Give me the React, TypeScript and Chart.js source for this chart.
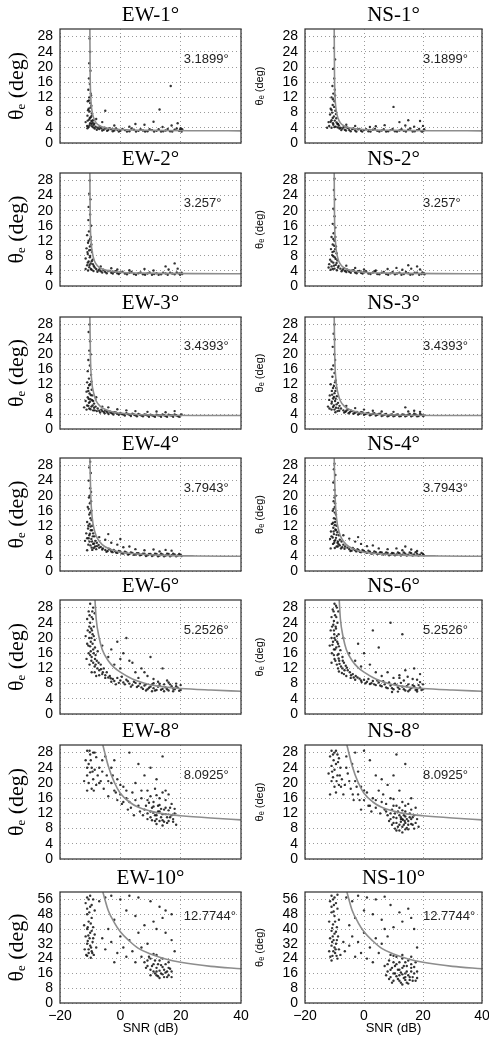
import React, { useEffect, useRef } from 'react';
import { Chart, registerables } from 'chart.js';
Chart.register(...registerables);

// ---------- fitted curves ----------
const CURVE_1 = [[-10.1,30],[-10,18],[-9.8,12],[-9.4,8.5],[-8.8,6.5],[-8,5.3],[-7,4.6],[-5,4],[-2,3.7],[2,3.5],[8,3.35],[15,3.27],[25,3.23],[40,3.2]];
const CURVE_2 = [[-10.1,30],[-10,19],[-9.7,12],[-9.2,8.5],[-8.5,6.5],[-7.5,5.3],[-6,4.5],[-3,3.9],[1,3.6],[8,3.42],[15,3.34],[25,3.29],[40,3.26]];
const CURVE_3 = [[-10.1,30],[-9.9,19],[-9.5,13],[-8.8,9.5],[-8,7.5],[-6.5,6],[-4.5,5.1],[-2,4.5],[2,4.1],[8,3.8],[15,3.68],[25,3.62],[40,3.6]];
const CURVE_4 = [[-10.1,30],[-9.8,20],[-9.3,14],[-8.5,10.5],[-7.5,8.5],[-6,7],[-4,6],[-1,5.2],[3,4.7],[8,4.4],[15,4.15],[25,4.0],[40,3.9]];
const CURVE_6 = [[-8.4,30],[-8,25],[-7,20],[-6,17],[-4,14],[-2,12.2],[0,11],[4,9.2],[8,8.1],[12,7.4],[16,7],[20,6.7],[30,6.3],[40,6.0]];
const CURVE_8 = [[-5.8,30],[-4,24.5],[-2,20.2],[0,17.3],[3,15],[6,13.6],[10,12.6],[15,11.8],[20,11.4],[30,10.8],[40,10.3]];
const CURVE_10 = [[-5.8,60],[-4,50],[-2,43.5],[0,38.5],[3,33.5],[6,29.5],[10,26.5],[15,23.8],[20,22],[30,19.8],[40,18.5]];

// ---------- scatter points ----------
const EW1_PTS = [[-10.2,27.5],[-10.0,24],[-10.3,21],[-9.9,19],[-10.4,17],[-10.1,15.5],[-10.6,14],[-9.8,13],[-10.3,12],[-10.8,11],[-10.0,10.5],[-9.6,9.8],[-10.5,9],[-10.2,8.3],[-9.4,7.8],[-10.9,7.2],[-9.8,6.8],[-10.3,6.2],[-9.1,6],[-11.5,5.5],[-10.0,5.2],[-9.5,5],[-11,4.5],[-8.8,4.8],[-10.5,4.2],
[-8.2,4.3],[-7.5,4],[-7,3.7],[-6.3,3.9],[-5.5,3.5],[-4.8,3.8],[-4,3.4],[-3,3.6],[-2,3.3],[-1,3.5],[0,3.2],[1.5,3.4],[3,3.1],[4.5,3.5],[6,3.2],[7.5,3.3],[9,3.1],[10.5,3.4],[12,3.2],[13.5,3.0],[15,3.3],[16.5,3.1],[18,3.5],[19.5,3.2],[20.3,3.0],
[-6,5.5],[-2,4.6],[3,4.3],[8,4.8],[11,5.6],[14,4.2],[16.7,15],[13,8.8],[17,4.6],[19,5.2],[20,3.9],[5,5],[-5,8.5],[-8,6.3],
[-9.7,12.5],[-10.4,11.2],[-9.9,9.3],[-10.7,8.6],[-9.5,7.2],[-10.1,6.6],[-9.6,5.8],[-10.8,5.9],[-9.2,5.4],[-8.6,5.1],[-10.2,4.7],[-9.4,4.4],[-8.9,4.1],[-10.9,3.9],[-8.5,3.8],
[-7.8,3.5],[-6.8,4.3],[-6,3.3],[-5.2,4],[-4.4,3.2],[-3.5,3.9],[-2.5,3.1],[-1.5,3.8],[-0.5,3.0],[0.7,3.7],[2.2,3.0],[3.7,3.8],[5.2,3.0],[6.7,3.6],[8.2,3.0],[9.7,3.6],[11.2,3.0],[12.7,3.6],[14.2,3.1],[15.7,3.7],[17.2,3.0],[18.7,3.8],[19.8,3.5],[20.5,3.6]];
const NS1_PTS = [[-10,28],[-10.2,25],[-9.8,22],[-10.5,19.5],[-10.1,17],[-10.7,15],[-9.9,14],[-10.4,13],[-11,12],[-10,11],[-10.6,10],[-11.3,9],[-9.7,8.5],[-10.8,8],[-11.5,7.5],[-10.2,7],[-9.4,6.5],[-11,6],[-12,5.5],[-10.5,5.2],[-9,5],[-11.8,4.5],[-10,4.2],[-8.5,4.6],[-12.5,4],
[-8,4],[-7.3,3.8],[-6.5,3.5],[-5.8,4.1],[-5,3.4],[-4,3.7],[-3,3.3],[-2,3.6],[-1,3.2],[0,3.4],[1.5,3.1],[3,3.5],[4.5,3.2],[6,3.3],[7.5,3.0],[9,3.4],[10.5,3.1],[12,3.3],[13.5,3.2],[15,3.5],[16.5,3.0],[18,3.4],[19.5,3.1],[20.2,3.3],
[-6,4.8],[-3,4.5],[2,4.2],[7,4.7],[12,5.5],[14,4.6],[15,6],[17,4.3],[19,5.8],[20,4.5],[10,9.5],[4,4.4],
[-9.8,12.5],[-10.5,11.5],[-10.1,9.5],[-11,8.7],[-9.5,7.6],[-10.6,6.6],[-9.9,5.9],[-11.3,5.6],[-9.3,5.4],[-8.8,5],[-10.4,4.8],[-9.6,4.3],[-8.9,4.1],[-11,4.0],[-8.3,3.8],
[-7.7,3.4],[-6.9,4.2],[-6.1,3.3],[-5.3,3.9],[-4.5,3.1],[-3.6,3.8],[-2.6,3.0],[-1.6,3.7],[-0.6,3.0],[0.7,3.6],[2.2,3.0],[3.7,3.7],[5.2,3.0],[6.7,3.6],[8.2,3.1],[9.7,3.7],[11.2,3.0],[12.7,3.6],[14.2,3.0],[15.7,3.8],[17.2,3.1],[18.7,3.7],[19.8,3.0],[20.4,3.6]];
const EW2_PTS = [[-10.1,28],[-10.3,24.5],[-9.9,23],[-10.5,21],[-10,19],[-10.6,17.5],[-9.7,16],[-10.4,14.5],[-11,13.5],[-10,12.5],[-10.7,11.5],[-9.6,11],[-11.2,10],[-10.3,9.5],[-9.4,9],[-10.8,8.5],[-10,8],[-11.5,7.3],[-9.2,7],[-10.5,6.5],[-9.8,6],[-11,5.5],[-8.8,5.3],[-10.3,5],[-11.5,4.5],[-9.5,4.3],
[-8,4.5],[-7.2,4.2],[-6.5,3.9],[-5.7,4.3],[-5,3.7],[-4,4],[-3,3.5],[-2,3.8],[-1,3.4],[0,3.6],[1.5,3.3],[3,3.5],[4.5,3.2],[6,3.4],[7.5,3.1],[9,3.3],[10.5,3.0],[12,3.4],[13.5,3.1],[15,3.3],[16.5,3.5],[18,3.1],[19.5,3.3],[20.3,3.5],
[-6.5,5.2],[-3,4.7],[-1,4.4],[3,4.2],[8,4.5],[11,4.1],[15,5.2],[16,4.4],[18,6],[19,4.6],
[-9.8,13],[-10.5,12],[-10.1,10.5],[-9.7,9.6],[-10.9,9],[-10.1,7.6],[-9.5,6.6],[-10.8,6.2],[-9.1,5.8],[-10.2,5.6],[-8.5,4.9],[-9.8,4.5],[-10.7,4.1],[-8.9,4.0],
[-7.6,3.8],[-6.8,4.6],[-6,3.6],[-5.3,4.1],[-4.5,3.4],[-3.5,4],[-2.5,3.3],[-1.5,3.9],[-0.5,3.2],[0.7,3.8],[2.2,3.1],[3.7,3.7],[5.2,3.0],[6.7,3.6],[8.2,3.0],[9.7,3.6],[11.2,3.2],[12.7,3.0],[14.2,3.5],[15.7,3.0],[17.2,3.3],[18.7,3.6],[19.8,3.0],[20.5,3.2]];
const NS2_PTS = [[-10,28.5],[-10.2,25.5],[-9.8,23],[-10.4,20.5],[-10,18.5],[-10.6,16.5],[-9.7,15.5],[-10.3,14],[-11,13],[-10,12],[-10.6,11],[-9.5,10.5],[-11.2,9.8],[-10.2,9.2],[-9.3,8.7],[-10.8,8.2],[-9.9,7.6],[-11.5,7],[-9,6.8],[-10.4,6.2],[-11.8,5.8],[-9.6,5.6],[-11,5.2],[-8.6,5.3],[-12,4.9],[-10,4.6],
[-8,4.6],[-7.2,4.3],[-6.5,4],[-5.8,4.4],[-5,3.8],[-4,4.1],[-3,3.6],[-2,3.9],[-1,3.5],[0,3.7],[1.5,3.3],[3,3.6],[4.5,3.2],[6,3.5],[7.5,3.2],[9,3.4],[10.5,3.1],[12,3.5],[13.5,3.2],[15,3.4],[16.5,3.1],[18,3.5],[19.5,3.2],[20.3,3.4],
[-6,5.4],[-3,4.8],[0,4.4],[4,4.1],[8,4.5],[11,4.8],[13,4.3],[15,5.5],[16,4.6],[18,5.2],[19,4.4],
[-9.7,13],[-10.4,12.5],[-10.1,10.7],[-9.8,9.8],[-10.7,9],[-10.4,7.9],[-9.6,7.2],[-11,6.5],[-9.3,6.1],[-10.2,5.4],[-8.8,4.9],[-10.6,4.5],[-11.3,4.3],[-9.2,4.2],
[-7.6,3.9],[-6.8,4.7],[-6,3.7],[-5.3,4.2],[-4.5,3.5],[-3.5,4.2],[-2.5,3.4],[-1.5,4],[-0.5,3.3],[0.7,3.9],[2.2,3.2],[3.7,3.9],[5.2,3.1],[6.7,3.7],[8.2,3.0],[9.7,3.7],[11.2,3.3],[12.7,3.0],[14.2,3.7],[15.7,3.0],[17.2,3.5],[18.7,3.0],[19.8,3.6],[20.5,3.1]];
const EW3_PTS = [[-10.2,28],[-10.5,26],[-10,23.5],[-10.3,21],[-9.8,20],[-10.6,18.5],[-10.1,17],[-10.8,15.5],[-9.7,14.5],[-10.4,13.5],[-11,12.5],[-10,12],[-10.7,11],[-9.5,10.5],[-11.2,10],[-10.2,9.5],[-9.3,9],[-10.8,8.5],[-9.9,8],[-11.5,7.5],[-9,7.5],[-10.4,7],[-8.7,6.8],[-11,6.3],[-9.6,6],[-12,5.8],[-8.2,6],[-10.3,5.5],[-7.5,5.5],[-9,5],
[-7,4.9],[-6.3,5.2],[-5.5,4.6],[-5,5],[-4.3,4.4],[-3.5,4.7],[-2.8,4.2],[-2,4.5],[-1,4.1],[0,4.3],[1,3.9],[2,4.2],[3,3.8],[4,4.1],[5,3.7],[6,4],[7,3.6],[8,3.9],[9,3.6],[10,3.8],[11,3.5],[12,3.8],[13,3.6],[14,3.9],[15,3.5],[16,3.8],[17,3.6],[18,3.9],[19,3.5],[20,3.7],
[-6,6],[-4,5.8],[-1,5.3],[2,5],[5,4.8],[9,4.6],[12,4.7],[15,4.5],[18,4.8],[-8,8.5],
[-9.6,12.7],[-10.3,11.7],[-10.6,10.2],[-9.8,9.1],[-10.5,8.1],[-9.4,7.7],[-10.1,7.3],[-9.2,6.3],[-10.6,6.2],[-8.7,5.7],[-9.9,5.3],[-8.5,5.0],[-11.2,5.2],[-7.8,4.8],
[-6.7,4.4],[-6,4.8],[-5.2,4.2],[-4.6,4.8],[-3.9,4.0],[-3.1,4.4],[-2.3,3.9],[-1.5,4.4],[-0.5,3.8],[0.5,4.0],[1.5,3.6],[2.5,4.0],[3.5,3.5],[4.5,3.9],[5.5,3.4],[6.5,3.8],[7.5,3.4],[8.5,3.8],[9.5,3.3],[10.5,3.7],[11.5,3.3],[12.5,3.7],[13.5,3.3],[14.5,3.7],[15.5,3.3],[16.5,3.7],[17.5,3.3],[18.5,3.7],[19.5,3.3],[20.3,3.9]];
const NS3_PTS = [[-10,28],[-10.3,25.5],[-9.9,24],[-10.6,22],[-10.1,20],[-9.8,18.5],[-10.4,17],[-11,16],[-10,15],[-10.7,14],[-9.6,13],[-11.3,12],[-10.2,11.5],[-9.4,11],[-10.9,10.2],[-10,9.6],[-11.6,9],[-9.2,8.8],[-10.5,8.2],[-11.8,7.8],[-9.8,7.5],[-8.8,7],[-11,6.8],[-10.2,6.3],[-12.2,6],[-8.3,6.2],[-9.5,5.7],[-11,5.2],[-7.8,5.5],[-9,4.8],
[-7,5],[-6.3,4.6],[-5.5,5.2],[-4.8,4.5],[-4,4.8],[-3.2,4.3],[-2.4,4.6],[-1.5,4.1],[-0.5,4.4],[0.5,4],[1.5,4.3],[2.5,3.9],[3.5,4.2],[4.5,3.8],[5.5,4.1],[6.5,3.7],[7.5,4],[8.5,3.6],[9.5,3.9],[10.5,3.6],[11.5,3.9],[12.5,3.5],[13.5,3.8],[14.5,3.6],[15.5,4],[16.5,3.6],[17.5,3.9],[18.5,3.5],[19.5,3.8],[20.3,3.6],
[-6,6.2],[-3,5.6],[0,5.2],[3,4.9],[6,4.7],[10,4.6],[14,5.8],[15,4.7],[17,4.9],[19,4.6],
[-9.8,12.5],[-10.5,11],[-9.7,10.2],[-10.8,9.2],[-10.2,8.6],[-9.6,8.1],[-10.9,7.3],[-9.3,6.6],[-10.5,5.9],[-8.7,5.6],[-10,5.2],[-11.7,5.5],[-8.4,4.9],[-9.7,4.5],
[-6.7,4.4],[-6,4.9],[-5.2,4.2],[-4.4,4.9],[-3.6,4.1],[-2.8,4.5],[-2,3.9],[-1,4.5],[0,3.8],[1,4.2],[2,3.7],[3,4.1],[4,3.6],[5,4.0],[6,3.5],[7,3.9],[8,3.4],[9,3.8],[10,3.4],[11,3.8],[12,3.4],[13,3.9],[14,3.4],[15,3.8],[16,3.4],[17,4.1],[18,3.4],[19,4.0],[20,3.5]];
const EW4_PTS = [[-10,29],[-10.3,27.5],[-9.8,26],[-10.5,24],[-10,22],[-9.7,21],[-10.4,19.5],[-10.1,18],[-10.8,17],[-9.6,16],[-10.3,15],[-9.9,14],[-11,13],[-10.2,12.5],[-9.3,12],[-10.7,11.3],[-9.8,10.8],[-11.3,10],[-9,10],[-10.3,9.5],[-8.6,9.2],[-11,8.7],[-9.6,8.5],[-11.7,8],[-8.3,8],[-10.2,7.8],[-9,7.2],[-7.8,7.5],[-10.6,7],[-8.4,6.5],[-7.2,6.9],[-9.5,6.2],[-6.5,6.4],[-8,5.8],[-5.8,6],[-11,5.5],
[-5,5.6],[-4.2,5.3],[-3.4,5.7],[-2.6,5],[-1.8,5.3],[-1,4.8],[0,5.1],[1,4.6],[2,4.9],[3,4.5],[4,4.8],[5,4.4],[6,4.7],[7,4.3],[8,4.6],[9,4.2],[10,4.5],[11,4.2],[12,4.5],[13,4.1],[14,4.4],[15,4.1],[16,4.5],[17,4.2],[18,4.4],[19,4.1],[20,4.3],
[-7,9],[-5,8.3],[-3,7.5],[-1,7],[1,6.3],[3,6.5],[5,5.8],[8,5.5],[11,5.7],[13,5.2],[15,5.6],[17,5.4],[-4,9.8],[0,8.5],
[-10.1,20],[-9.7,18.5],[-10.5,16.5],[-10,15.5],[-9.5,13.5],[-10.6,12],[-9.9,11.8],[-9.4,10.8],[-10.1,9.9],[-9.1,9.2],[-10.5,8.7],[-9.4,7.8],[-8.7,7.3],[-9.9,6.8],[-7.8,6.6],[-8.8,6.1],[-7,6.2],[-6,5.7],[-9.3,5.6],
[-4.6,5.1],[-3.8,5.9],[-3,5.2],[-2.2,5.6],[-1.4,4.9],[-0.5,5.3],[0.5,4.7],[1.5,5.1],[2.5,4.4],[3.5,4.9],[4.5,4.3],[5.5,4.7],[6.5,4.2],[7.5,4.6],[8.5,4.0],[9.5,4.5],[10.5,4.0],[11.5,4.6],[12.5,3.9],[13.5,4.6],[14.5,3.9],[15.5,4.6],[16.5,3.9],[17.5,4.6],[18.5,3.9],[19.5,4.5],[20.3,4.0]];
const NS4_PTS = [[-10,28.5],[-10.2,27],[-9.7,25.5],[-10.4,23.5],[-10,21.5],[-9.6,20],[-10.3,18.5],[-9.9,17],[-10.6,16],[-9.5,15],[-10.2,14],[-9.8,13],[-10.9,12.5],[-9.3,12],[-10.4,11.5],[-9.7,11],[-11.2,10.5],[-9,10.3],[-10.2,9.8],[-8.5,9.5],[-11,9.2],[-9.5,8.8],[-11.5,8.5],[-8.2,8.3],[-10,8],[-9,7.5],[-7.6,7.8],[-10.5,7.2],[-8.2,6.8],[-7,7],[-9.3,6.5],[-6.4,6.5],[-7.8,6],[-5.6,6.2],[-11.3,6],
[-5,5.8],[-4.2,5.4],[-3.4,5.8],[-2.6,5.2],[-1.8,5.5],[-1,5],[0,5.3],[1,4.8],[2,5.1],[3,4.7],[4,5],[5,4.6],[6,4.9],[7,4.5],[8,4.8],[9,4.4],[10,4.7],[11,4.4],[12,4.7],[13,4.3],[14,4.6],[15,4.3],[16,4.7],[17,4.4],[18,4.6],[19,4.3],[20,4.5],
[-7,9.5],[-5,8.6],[-3,7.8],[-1,7.2],[1,6.6],[3,6.8],[5,6],[8,5.8],[11,6],[13,5.5],[14,6.5],[16,5.7],[18,5.3],[-2,9],
[-10,19.5],[-9.8,18],[-10.3,16.5],[-9.9,15.5],[-9.6,13.8],[-10.5,12.8],[-9.9,12.2],[-9.5,10.8],[-10.3,10.5],[-9.3,9.6],[-10.6,8.9],[-9.7,8.2],[-8.8,7.8],[-10.1,7.5],[-8.6,7.1],[-8.9,6.5],[-7.4,6.3],[-6.6,5.9],[-9.9,6.1],
[-4.6,5.3],[-3.8,6.1],[-3,5.5],[-2.2,5.8],[-1.4,5.1],[-0.5,5.6],[0.5,5],[1.5,5.4],[2.5,4.6],[3.5,5.2],[4.5,4.5],[5.5,5],[6.5,4.4],[7.5,4.9],[8.5,4.2],[9.5,4.8],[10.5,4.2],[11.5,4.9],[12.5,4.1],[13.5,4.9],[14.5,4.1],[15.5,4.9],[16.5,4.1],[17.5,5.0],[18.5,4.1],[19.5,4.8],[20.3,4.2]];
const EW6_PTS = [[-10,29],[-9,28],[-10.5,27],[-8.5,26.5],[-9.5,25.5],[-11,25],[-10,24],[-8.8,23],[-9.7,22.5],[-10.8,22],[-9.2,21],[-11.5,20.5],[-10.3,20],[-8.5,19.5],[-9.8,19],[-11,18.5],[-10,17.8],[-9,17],[-7.5,16.5],[-10.5,16],[-8.2,15.5],[-9.5,15],[-11.2,14.5],[-7.8,14],[-9,13.5],[-10.2,13],[-6.5,13],[-8.5,12.5],[-5.5,12],[-7,11.5],[-9.5,11],[-4.5,11],[-6,10.5],[-3.5,10],[-8,10],
[-5,9.5],[-2.5,9.2],[-1,9.5],[0,8.8],[-3,8.5],[1,8.3],[2,9],[3,8],[-1.5,7.8],[4,7.6],[5,8.2],[6,7.4],
[7,7],[8,7.5],[9,6.5],[10,7.2],[11,6.8],[12,6.3],[13,7.5],[14,6.6],[15,7],[16,6.2],[17,7.3],[18,6.5],[19,6.9],[20,6.3],[12.5,8.5],[15.5,8.8],[18.5,8],[10.5,6],[14.5,6],[17.5,6],[8.5,6.2],
[-4,15],[-2,13],[0,12],[1,16],[3,14],[5,11],[7,12],[9,10],[-1,19],[2,20],[10,15],[14,12],[4,13.5],[6,9.5],[-6,18],[-3,17],[0,14.5],[8,11],[11,9.2],
[-9.3,27],[-10.2,26],[-9.1,25],[-10.3,23],[-9.4,22],[-10.1,21.5],[-8.8,20.5],[-9.6,20],[-10.6,18],[-9.2,18.5],[-8.4,17.5],[-9.8,16.5],[-8.8,16],[-10,15.5],[-8.4,14.5],[-9.6,14],[-7.2,13.5],[-8.2,13],[-7.6,12],[-6.4,11.8],[-8.5,11],[-5.8,11],[-7,10.2],[-5,10.2],[-4,9.6],[-3.2,9.4],[-2,8.7],[-0.5,8.2],[0.5,9.8],[1.5,7.8],[2.5,8.6],[3.5,7.2],[4.5,8.5],[5.5,7.1],[6.5,8],[7.5,6.6],[8.5,7.8],[9.5,6.9],[10.5,7.8],[11.5,6.2],[12.5,7.2],[13.5,6.4],[14.5,7.8],[15.5,6.5],[16.5,7.8],[17.5,6.7],[18.5,7.3],[19.5,6.1],[20,7.6],[13,8],[16,8.3],[11,8.1]];
const NS6_PTS = [[-10,29],[-9.2,28],[-10.6,27.5],[-8.7,27],[-9.8,26],[-11,25.5],[-10.2,24.5],[-9,24],[-10.8,23],[-9.5,22.5],[-11.3,22],[-10.1,21],[-8.6,21],[-11,20],[-9.7,19.5],[-10.5,19],[-8.8,18.5],[-11.6,18],[-9.4,17.5],[-10.2,17],[-8,16.8],[-10.9,16],[-9,15.5],[-7.3,15],[-10,14.5],[-8.4,14],[-11,13.5],[-6.8,13.5],[-9.2,13],[-7.8,12.5],[-5.8,12.2],[-8.8,12],[-6.6,11.5],[-4.8,11],[-7.5,10.8],[-3.8,10.5],
[-6,10],[-2.8,10],[-4.5,9.5],[-1.5,9.3],[-3,9],[0,9],[-0.8,8.4],[1,8.5],[2,7.9],[3,8.7],[4,7.6],[5,8.3],[6,7.3],
[7,7.8],[8,6.8],[9,7.5],[10,6.5],[11,7.6],[12,6.6],[13,7.2],[14,6.2],[15,7.8],[16,6.8],[17,7.3],[18,6.4],[19,7],[20,6.5],[13.5,8.8],[16.5,9.2],[19,8.4],[11.5,5.9],[15,6],[18,5.9],[9.5,5.8],
[-5,16],[-3,14],[-1,12.5],[0,16],[2,13],[4,11],[6,10],[8,11],[10,9.5],[12,10.2],[14,11.5],[5,17.5],[9,24],[13,21],[-2,18.5],[-7,20],[3,22],[17,12],[19,10.5],
[-9.5,28.5],[-10.3,27],[-9.4,25.5],[-10.4,23.5],[-9.6,23],[-10.2,22],[-9.2,20.5],[-10,20],[-10.7,18.2],[-9.1,19],[-8.5,17.8],[-9.8,17],[-8.6,15.8],[-10.2,15.5],[-8.6,14.6],[-9.7,14],[-7.2,14],[-8.3,13.2],[-7.3,12],[-6.2,12.7],[-8.5,11.2],[-5.5,11.5],[-6.8,10.5],[-4.4,10.2],[-3.5,9.6],[-2.2,9.6],[-1,8.8],[0.5,8.1],[1.5,9.2],[2.5,8.1],[3.5,7.8],[4.5,8.8],[5.5,7.5],[6.5,8.6],[7.5,7],[8.5,8.3],[9.5,6.8],[10.5,8],[11.5,7],[12.5,8.2],[13.5,6.5],[14.5,7.3],[15.5,6.4],[16.5,7.6],[17.5,6.3],[18.5,7.6],[19.5,6.3],[20,7.8],[12,9.5],[14.8,9.8],[18,9]];
const EW8_PTS = [[-11,28.5],[-10,27.5],[-9,28],[-8,26.8],[-11.5,26],[-10.5,25],[-9.5,24],[-8.5,23.5],[-10,22.8],[-11,22],[-9,21],[-7.5,22],[-12,20.5],[-10.5,20],[-8,19.5],[-9.5,18.5],[-11,18],[-7,24],[-6,26],[-5,27],[-6.5,20.5],[-4.5,22],[-3,24],[-5.5,18.5],
[-3,20],[-2,18],[-1,21],[0,17],[-4,16.5],[1,19],[2,16],[3,15],[0.5,14.5],[4,17.5],[5,20],[-1,15.5],[2.5,13],[6,14],[7,16],[8,22],[9,18],[10,24],[12,21],[14,27],[3,28],[-2,26],[6,25],
[8,13],[9,12],[10,11],[10.5,13.5],[11,12.2],[11.5,10],[12,11.5],[12.5,14],[13,12.5],[13.5,11],[14,10.2],[14.5,13],[15,11.8],[15.5,9.5],[16,12.8],[16.5,11],[17,14.5],[17.5,10.5],[18,12],[11,15],[13,16],[15,15.5],[16,17],[12,9.2],[14,8.8],[9.5,14.8],[7.5,11.5],[18.5,9],
[8.5,14],[9,10.5],[10,12.5],[10.5,10.2],[11,13.8],[11.5,11.5],[12,10.5],[12.5,12.5],[13,10],[13,14.2],[13.5,13.2],[14,11.8],[14.5,9.8],[15,13.5],[15.5,11],[16,10],[16.5,13.5],[17,11.5],[17.5,9.8],[18,13.2],[12,16.8],[14,17.5],[10,16.5],[9,15.5],[15,18],[11.5,18.5],
[-10.2,28.5],[-8.5,28],[-9.8,26],[-11,24],[-9.2,23],[-7,20],[-8.8,18],[-6,23],[-4,20.5],[-2.5,22],[-1.5,17.5],[0,19.5],[1,15],[2,18],[3.5,13.5],[5,15.5],[6.5,12.5],[7,18],[4.5,11.5]];
const NS8_PTS = [[-11,28.5],[-10,28],[-9,27.5],[-11.5,27],[-10.3,26],[-8.5,26.5],[-9.5,25],[-11,24.5],[-10,23.5],[-8,24],[-12,22.5],[-9,22],[-10.5,21.5],[-7.5,21],[-11,20.5],[-8.5,19.5],[-10,19],[-6.5,19.5],[-9.5,17.5],[-7,17],[-11.5,17],[-5.5,22.5],[-4,25],[-6,27],[-3,28],
[-4.5,18.5],[-3,20.5],[-2,17],[-1,19],[0,15.5],[-3.5,15.5],[1,17.5],[2,14],[3,16],[4,13.5],[5,18],[-1,13],[6,15],[7,13],[8,19.5],[9,16],[10,22],[12,18],[14,25],[11,27.5],[2,26],[-2,23],[6,21],[0,28.5],[4,22],
[8,11.5],[9,10.5],[9.5,13],[10,9.5],[10.5,12],[11,10.8],[11.5,8.5],[12,11.5],[12.5,9.8],[13,12.8],[13.2,10.3],[13.5,9],[14,11.2],[14.5,8.2],[15,10],[15.5,12],[16,9.2],[16.5,11],[17,8],[17.5,13.5],[18,10.5],[11,14],[13,15],[15,14.5],[16,16],[12,7.5],[14,7.8],[10,15.8],[7.5,12.5],[18.5,8.5],[13,10.5],[12.5,11],[14,9.5],
[8.5,10],[9,12],[9.5,9],[10,11],[10.5,8],[11,9.5],[11.5,12.5],[12,9],[12.5,10.5],[13,8.5],[13.5,11.5],[13.8,10],[14,12.5],[14.5,10.5],[15,9],[15.5,11],[16,10.5],[16.5,9],[17,11.5],[17.5,9.5],[12,13.5],[14,14],[16,13],[10,14],[11,7.5],[13,7],[15,7.8],
[-10.5,27.5],[-9.5,28.5],[-8.8,25.5],[-10.8,23],[-9.3,20.5],[-7.8,19],[-8.2,22],[-6,24],[-5,20.5],[-3.8,17],[-2.5,19],[-1.5,15.5],[0,18],[1.5,14],[2.5,12.5],[4,15.5],[5.5,12],[6.5,17],[7.5,14.5]];
const EW10_PTS = [[-11,57],[-10,58],[-9,56],[-11.5,54],[-10,52],[-8.5,50],[-11,48],[-9.5,46],[-10.5,44],[-12,42],[-9,41],[-11,40],[-10,38],[-8.5,37],[-11.5,36],[-10.2,35],[-9.2,33],[-11,32],[-10,31],[-8,30],[-11.8,29],[-9.5,28],[-10.5,27],[-11,25.5],[-9.8,24.5],[-8.8,26],
[-7,55],[-5,57],[-3,58],[0,56],[3,58],[6,57],[10,55],[13,52],[15,50],[17,48],[14,46],[11,44],[12,40],[15,38],[8,42],[5,47],[2,50],[-2,45],[-4,40],[-6,35],[-3,33],[0,36],[1,30],[3,34],[6,38],[7,30],[9,32],[4,28],[-1,27],[-5,29],[2,25],[5,22],[-2,22],[17,34],[18,28],
[8,22],[9,20],[10,18],[11,21],[11.5,16],[12,19],[12.5,14.5],[13,17.5],[13.5,20.5],[14,15.5],[14.5,18],[15,16.5],[15.5,14],[16,19],[10,15],[13,23],[16,22],[17,17],[9.5,25],[12,26],
[-10.5,56],[-9.5,53],[-11,51],[-10.3,49],[-9.8,43],[-10.8,41],[-9.5,39],[-10.6,36.5],[-9,35],[-10.8,33.5],[-9.7,30],[-10.5,29],[-11.3,26],[-9.3,27],
[8.5,19],[9,23],[10.5,20],[11,17],[11.5,23],[12,15],[12.5,21],[13,13.5],[13.5,16],[14,19.5],[14.5,14],[15,21],[15.5,17],[16,15],[16.5,18.5],[17,14],[12,17],[10,24],[14,24],[11,26.5],[7,25]];
const NS10_PTS = [[-11,58],[-10,57],[-9,58.5],[-11.5,55],[-10.2,53],[-9,51],[-11,49],[-10,47],[-8.5,45],[-11.8,44],[-10.5,42.5],[-9.2,41],[-11,39],[-10,37.5],[-8.8,36],[-11.5,35],[-10.3,34],[-9.5,32],[-11,31],[-10,30],[-8.5,29],[-11.8,28],[-9.8,27],[-10.7,25.5],[-9,24],[-11,23],[-8,26],[-7,33],[-6.5,28],
[-6,57],[-4,55],[-2,58],[1,57],[4,56],[7,57.5],[9,53],[12,49],[15,51],[16,46],[13,44],[10,41],[6,45],[3,48],[0,50],[-3,46],[-5,42],[-4,36],[-2,33],[0,38],[2,30],[4,35],[6,32],[8,36],[5,27],[-1,27],[-5,31],[1,24],[3,22],[-3,25],[17,40],[18,30],[7,40],
[7,20],[8,17],[8.5,23],[9,14],[9.5,19],[10,12],[10.5,16],[11,21],[11.5,13],[12,18],[12.5,11],[13,15.5],[13.5,20],[14,12.5],[14.5,17],[15,10.5],[15.5,14],[16,19],[16.5,12],[17,16],[17.5,22],[18,13.5],[11,25],[13,24],[15,23],[12,15],[14,14],[10,22],[16,25],[9,26],
[-10.5,56],[-9.5,54],[-11,52],[-10.3,49.5],[-9.8,44],[-10.8,40.5],[-9.5,38.5],[-10.6,36],[-9.2,34],[-10.8,33],[-9.6,29],[-10.4,28],[-11.4,25],[-9.3,25.5],
[7.5,15],[8,21],[8.5,13],[9,18],[9.5,11],[10,16],[10.5,20],[11,14.5],[11.5,18],[12,12],[12.5,16.5],[13,10],[13,19],[13.5,13.5],[14,16],[14.5,11],[14.5,20],[15,15],[15.5,12.5],[16,17],[16.5,14],[17,19.5],[17.5,12],[18,17],[12,22],[14,22],[16,21],[10,25.5],[13,26]];

// ---------- labels ----------
const ANGLES = ['1', '2', '3', '4', '6', '8', '10'];
const FIT_LABELS = ['3.1899°', '3.257°', '3.4393°', '3.7943°', '5.2526°', '8.0925°', '12.7744°'];
const Y_MAX = [30, 30, 30, 30, 30, 30, 60];
const Y_STEP = [4, 4, 4, 4, 4, 4, 8];
const X_TICKS = [-20, 0, 20, 40];
const CURVES = [CURVE_1, CURVE_2, CURVE_3, CURVE_4, CURVE_6, CURVE_8, CURVE_10];
const EW_POINTS = [EW1_PTS, EW2_PTS, EW3_PTS, EW4_PTS, EW6_PTS, EW8_PTS, EW10_PTS];
const NS_POINTS = [NS1_PTS, NS2_PTS, NS3_PTS, NS4_PTS, NS6_PTS, NS8_PTS, NS10_PTS];

// ---------- layout ----------
const ROW_T = [29, 173, 317, 458, 600, 745, 892];
const ROW_B = [143, 286, 429, 571, 714, 859, 1003];
const COL_L = [60, 305];
const COL_R = [241, 482];
const COL_X = [0, 245];
const COL_W = [262, 244];

const SANS = '"Liberation Sans", Arial, sans-serif';
const SERIF = '"Liberation Serif", "Times New Roman", serif';

const decor = {
  id: 'decor',
  afterDraw(chart: any, _a: any, opts: any) {
    const { ctx, chartArea: a, scales } = chart;
    ctx.save();
    ctx.strokeStyle = '#3c3c3c';
    ctx.lineWidth = 1.3;
    ctx.strokeRect(a.left, a.top, a.right - a.left, a.bottom - a.top);
    ctx.fillStyle = '#000';
    ctx.font = '21px ' + SERIF;
    ctx.textAlign = 'center';
    ctx.textBaseline = 'middle';
    ctx.fillText(opts.title, (a.left + a.right) / 2, a.top - 14);
    ctx.font = '13px ' + SANS;
    ctx.textAlign = 'left';
    ctx.fillStyle = '#222';
    ctx.fillText(opts.label, scales.x.getPixelForValue(opts.lx), scales.y.getPixelForValue(opts.ly));
    ctx.restore();
  },
};

function Panel({ row, col }: { row: number; col: number }) {
  const ref = useRef<HTMLCanvasElement>(null);
  const last = row === 6;
  const top = ROW_T[row] - 30;
  const h = ROW_B[row] - ROW_T[row] + 30 + (last ? 35 : 10);
  const w = COL_W[col];
  const left = COL_X[col];
  useEffect(() => {
    const pts = (col === 0 ? EW_POINTS : NS_POINTS)[row];
    const yMax = Y_MAX[row];
    const yStep = Y_STEP[row];
    const chart = new Chart(ref.current as HTMLCanvasElement, {
      type: 'scatter',
      data: {
        datasets: [
          {
            data: CURVES[row].map(([x, y]) => ({ x, y })),
            showLine: true,
            borderColor: '#8d8d8d',
            borderWidth: 1.6,
            pointRadius: 0,
            cubicInterpolationMode: 'monotone',
          } as any,
          {
            data: pts.map(([x, y]) => ({ x, y })),
            pointRadius: 1.2,
            pointBackgroundColor: 'rgba(15,15,15,0.85)',
            pointBorderWidth: 0,
          },
        ],
      },
      options: {
        animation: false,
        responsive: false,
        devicePixelRatio: 1,
        layout: { padding: { left: 0, top: 30, right: left + w - COL_R[col], bottom: last ? 0 : 10 } },
        plugins: {
          legend: { display: false },
          tooltip: { enabled: false },
          decor: {
            title: (col === 0 ? 'EW-' : 'NS-') + ANGLES[row] + '°',
            label: FIT_LABELS[row],
            lx: col === 0 ? 21 : 20,
            ly: row === 6 ? 47 : 22,
          },
        } as any,
        scales: {
          x: {
            type: 'linear',
            min: -20,
            max: 40,
            afterBuildTicks: (s: any) => { s.ticks = X_TICKS.map((v) => ({ value: v })); },
            afterFit: (s: any) => { s.height = last ? 35 : 0; s.paddingLeft = 0; s.paddingRight = 0; },
            grid: { color: '#9a9a9a', lineWidth: 1, drawTicks: false },
            border: { display: false, dash: [1, 3] },
            ticks: {
              display: last,
              autoSkip: false,
              padding: 5,
              color: '#000',
              font: { family: SANS, size: 14 },
              maxRotation: 0,
              callback: (v: any) => (v < 0 ? '\u2212' + Math.abs(v) : String(v)),
            },
            title: { display: last, text: 'SNR (dB)', color: '#000', font: { family: SANS, size: 13 }, padding: { top: 0, bottom: 2 } },
          },
          y: {
            type: 'linear',
            min: 0,
            max: yMax,
            afterBuildTicks: (s: any) => {
              const t: any[] = [];
              for (let v = 0; v < yMax; v += yStep) t.push({ value: v });
              s.ticks = t;
            },
            afterFit: (s: any) => { s.width = COL_L[col] - left; s.paddingTop = 0; s.paddingBottom = 0; },
            grid: { color: '#9a9a9a', lineWidth: 1, drawTicks: false },
            border: { display: false, dash: [1, 3] },
            ticks: { autoSkip: false, padding: 7, color: '#000', font: { family: SANS, size: 14 } },
            title: col === 0
              ? { display: true, text: 'θₑ (deg)', color: '#000', font: { family: SERIF, size: 22 }, padding: { top: 4, bottom: 0 } }
              : { display: true, text: 'θₑ (deg)', color: '#000', font: { family: SANS, size: 11 }, padding: { top: 8, bottom: 0 } },
          },
        },
      },
      plugins: [decor],
    } as any);
    return () => chart.destroy();
  }, [row, col]);
  return (
    <canvas
      ref={ref}
      width={w}
      height={h}
      style={{ position: 'absolute', left, top, width: w, height: h }}
    />
  );
}

export default function App() {
  const panels: any[] = [];
  for (let r = 0; r < 7; r++) {
    for (let c = 0; c < 2; c++) panels.push(<Panel key={r + '-' + c} row={r} col={c} />);
  }
  return (
    <div style={{ position: 'absolute', left: 0, top: 0, width: 489, height: 1038, background: '#fff', overflow: 'hidden' }}>
      {panels}
    </div>
  );
}
